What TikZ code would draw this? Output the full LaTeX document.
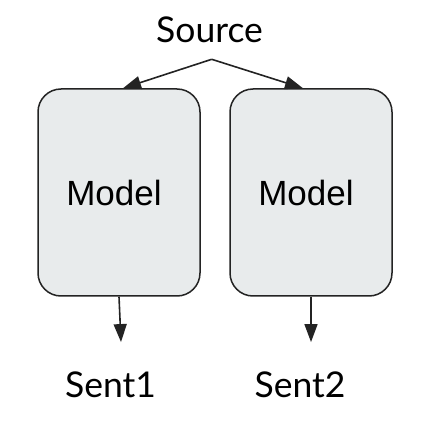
\documentclass[tikz,border=0pt]{standalone}
\usepackage{fontspec}
\setmainfont{Lato}
\newfontfamily\arialfont{Liberation Sans}
\usetikzlibrary{arrows.meta,calc}
\definecolor{boxfill}{RGB}{232,235,236}
\definecolor{boxline}{RGB}{35,35,35}
\tikzset{
  x=1pt,y=1pt,
  modelbox/.style={draw=boxline,fill=boxfill,line width=1.5pt,rounded corners=23pt,
    minimum width=162pt,minimum height=207pt,inner sep=0pt,font=\arialfont\fontsize{35}{42}\selectfont},
  label/.style={inner sep=0pt,font=\fontsize{35.5}{42}\selectfont},
  conn/.style={draw=boxline,line width=1.6pt,-{Triangle[length=18pt,width=13pt]}}
}
\begin{document}
\begin{tikzpicture}
\useasboundingbox (0,0) rectangle (432,442);
\node[label,anchor=base] (src) at (209.5,399) {Source};
\coordinate (apex) at (211.7,382.7);
\node[modelbox] (m1) at (119,249.5) {Model\hspace*{10pt}};
\node[modelbox] (m2) at (311,249.5) {Model\hspace*{10pt}};
\node[label,anchor=base] (s1) at (110.5,44) {Sent1};
\node[label,anchor=base] (s2) at (300,44) {Sent2};
\draw[conn] (apex) -- ($(m1.north)+(4,0)$);
\draw[conn] (apex) -- ($(m2.north)+(-8,0)$);
\draw[conn] (m1.south) -- ($(s1.north)+(10.5,30)$);
\draw[conn] (m2.south) -- ($(s2.north)+(11,30)$);
\end{tikzpicture}
\end{document}
